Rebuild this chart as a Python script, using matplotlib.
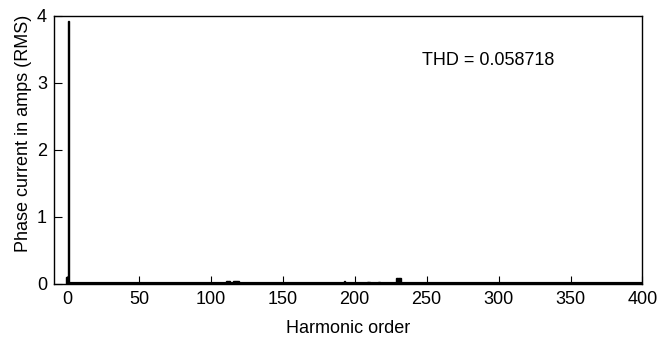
import matplotlib
matplotlib.use("Agg")
import matplotlib.pyplot as plt

# harmonic spectrum of the phase current
orders = [0, 1, 111, 112, 113, 116, 117, 118, 119, 193, 209, 210, 217, 229, 230, 231, 232]
amps = [0.11, 3.93, 0.04, 0.04, 0.04, 0.04, 0.04, 0.04, 0.04, 0.04, 0.035, 0.035, 0.035, 0.09, 0.09, 0.09, 0.09]
thd = 0.058718

plt.rcParams['font.family'] = ['Liberation Sans Narrow', 'Liberation Sans', 'DejaVu Sans']

fig = plt.figure(figsize=(6.71, 3.38), dpi=100)
ax = fig.add_axes([0.0805, 0.16, 0.877, 0.793])

ax.bar(orders, amps, width=1.0, color='k', edgecolor='k', linewidth=1.0)
ax.hlines(0, -0.5, 400, color='k', lw=3)

ax.set_xlim(-9, 400)
ax.set_ylim(0, 4)
ax.set_xticks(range(0, 401, 50))
ax.set_yticks([0, 1, 2, 3, 4])
ax.tick_params(direction='in', length=6, labelsize=13, width=0.8, pad=5)
for s in ax.spines.values():
    s.set_linewidth(1.0)

ax.set_xlabel("Harmonic order", fontsize=13, labelpad=9)
ax.set_ylabel("Phase current in amps (RMS)", fontsize=13)
ax.yaxis.set_label_coords(-0.037, 0.56)
ax.text(247, 3.34, "THD = %g" % thd, fontsize=13, va='center')

fig.savefig("out.png", dpi=100)
